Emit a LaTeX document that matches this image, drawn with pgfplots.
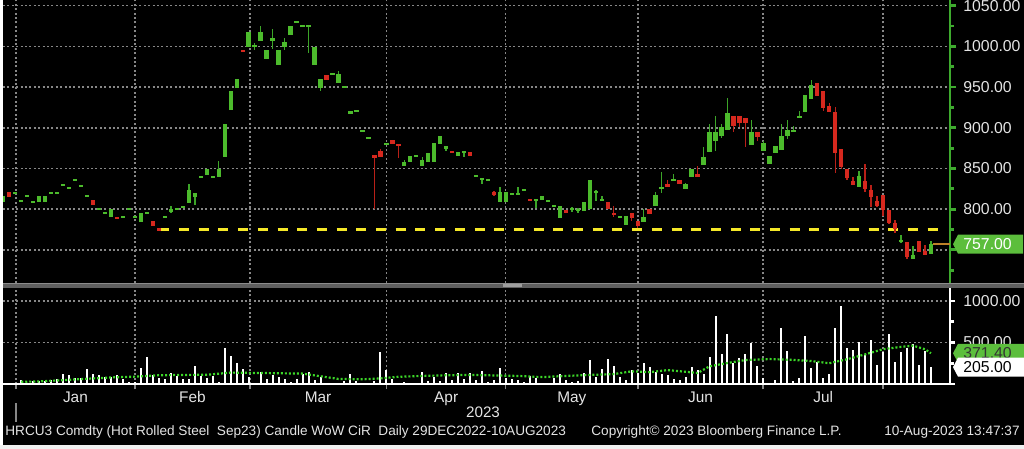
\documentclass[border=0pt]{standalone}
\usepackage{pgfplots}
\pgfplotsset{compat=1.18}
\usepackage{pgfplotstable}
\usepackage{fontspec}
\setmainfont{Liberation Sans}

\definecolor{cgreen}{RGB}{76,187,44}
\definecolor{cgreenw}{RGB}{60,165,40}
\definecolor{cred}{RGB}{214,40,30}
\definecolor{credw}{RGB}{185,32,24}
\definecolor{caxis}{RGB}{62,170,46}
\definecolor{cyellow}{RGB}{245,232,40}
\definecolor{cgrid}{RGB}{135,135,135}
\definecolor{ctext}{RGB}{228,228,228}
\definecolor{cma}{RGB}{60,215,40}
\definecolor{cbrown}{RGB}{190,130,40}
\definecolor{csep}{RGB}{95,95,95}
\definecolor{cbox}{RGB}{92,190,60}

% candle marks: half heights (bp) come from the data via "visualization depends on"
\pgfdeclareplotmark{cbody}{\pgfpathrectanglecorners{\pgfpoint{-1.1bp}{-\bhh bp}}{\pgfpoint{1.1bp}{\bhh bp}}\pgfusepathqfill}
\pgfdeclareplotmark{cwick}{\pgfpathrectanglecorners{\pgfpoint{-0.35bp}{-\whh bp}}{\pgfpoint{0.35bp}{\whh bp}}\pgfusepathqfill}

\tikzset{lbl/.style={text=ctext, font=\fontsize{7.9bp}{9bp}\selectfont, inner sep=0pt}}

% green candles: index, open, high, low, close
\pgfplotstableread{
i o h l c
0 809.2 816.2 809.2 816.2
2 819.9 819.9 819.9 819.9
3 810.1 810.1 810.1 810.1
4 815.8 815.8 815.8 815.8
5 808.5 808.5 808.5 808.5
6 808.8 816.2 808.8 816.2
7 808.8 816.2 808.8 816.2
8 819.9 819.9 819.9 819.9
9 819.9 819.9 819.9 819.9
10 830.1 830.1 830.1 830.1
11 825.7 825.7 825.7 825.7
12 835.5 835.5 835.5 835.5
13 828.5 828.5 828.5 828.5
14 815.8 815.8 815.8 815.8
16 799.9 799.9 799.9 799.9
17 795.0 795.0 795.0 795.0
18 790.8 800.2 790.8 800.2
20 790.4 790.4 790.4 790.4
21 800.2 800.2 800.2 800.2
22 790.4 790.4 790.4 790.4
23 783.9 795.0 783.9 795.0
24 795.0 795.0 795.0 795.0
27 790.4 790.4 790.4 790.4
28 797.0 803.9 795.7 799.9
29 800.2 800.2 800.2 800.2
30 803.1 803.1 803.1 803.1
31 808.0 830.6 808.0 823.2
32 815.0 820.3 805.2 820.3
33 839.6 839.6 839.6 839.6
34 841.6 849.0 841.6 849.0
35 839.6 839.6 839.6 839.6
36 839.2 859.6 839.2 849.4
37 864.5 904.7 864.5 904.7
38 922.2 945.6 922.2 945.6
39 949.3 960.0 949.3 960.0
41 999.6 1018.1 999.6 1018.1
42 998.9 1003.8 995.6 1001.7
43 1007.0 1025.1 1007.0 1018.1
44 984.5 995.2 984.5 995.2
45 1007.0 1021.0 996.8 1010.7
46 977.1 995.2 977.1 995.2
47 999.6 1010.7 995.6 1005.4
48 1014.0 1024.7 1014.0 1024.7
49 1030.3 1030.3 1030.3 1030.3
50 1024.7 1024.7 1024.7 1024.7
51 1024.7 1024.7 991.5 1024.7
52 977.1 999.3 977.1 999.3
53 949.3 960.0 945.2 960.0
55 966.5 966.5 966.5 966.5
56 954.7 969.8 954.7 966.1
57 949.7 949.7 949.7 949.7
58 916.6 920.6 916.6 920.6
59 920.3 920.3 920.3 920.3
60 896.1 896.1 896.1 896.1
61 887.8 887.8 887.8 887.8
64 880.5 880.5 880.5 880.5
67 853.1 860.1 853.1 857.6
68 858.4 865.4 858.4 865.4
69 865.0 865.0 865.0 865.0
70 853.1 863.8 853.1 860.1
71 858.4 869.4 858.4 869.4
72 858.4 881.0 858.4 881.0
73 879.7 889.6 879.7 889.6
74 874.0 878.0 871.5 878.0
76 865.7 870.6 865.7 870.6
77 869.4 871.5 864.1 871.5
79 841.1 841.1 841.1 841.1
80 835.9 838.0 830.6 838.0
81 835.5 835.5 835.5 835.5
83 809.2 826.9 809.2 821.5
84 809.2 820.8 809.2 820.8
85 818.7 818.7 818.7 818.7
86 818.7 827.3 818.7 818.7
87 824.0 824.0 824.0 824.0
89 810.1 811.3 801.1 811.3
90 810.9 815.8 810.9 815.8
91 809.2 811.3 809.2 811.3
92 804.3 804.3 804.3 804.3
93 789.6 804.3 789.6 804.3
95 799.0 802.7 796.6 800.6
96 798.6 801.1 795.0 799.9
97 797.8 808.8 797.8 808.8
98 799.9 835.9 799.9 835.9
99 820.8 823.2 810.1 821.5
100 811.0 816.2 811.0 812.2
103 789.6 792.0 789.6 790.8
104 781.0 792.0 781.0 792.0
107 783.9 800.2 783.9 790.4
109 803.6 820.8 803.6 817.4
110 824.8 845.7 820.3 826.9
112 834.6 842.9 834.6 837.5
114 824.8 832.6 824.8 830.6
115 839.2 849.8 839.2 849.8
117 854.3 876.4 854.3 863.8
118 869.9 904.7 869.9 894.8
119 884.1 914.5 871.5 894.8
120 889.9 904.7 887.1 900.6
121 896.9 936.2 896.9 917.8
125 878.5 909.2 878.5 894.8
127 871.5 883.4 871.5 881.0
128 855.9 865.7 855.9 865.7
129 868.7 877.6 868.7 877.6
130 872.7 904.7 872.7 889.6
131 889.6 909.2 885.9 897.7
132 895.2 902.2 895.2 897.0
133 912.4 920.3 912.4 914.1
134 919.4 939.9 919.4 939.9
135 935.0 958.7 935.0 952.6
143 826.9 846.9 826.9 840.8
150 759.7 768.3 758.1 762.2
152 738.8 754.8 738.8 743.4
155 744.6 761.3 744.6 757.0
}\greentab

% red candles: index, open, high, low, close
\pgfplotstableread{
i o h l c
1 820.8 820.8 814.6 814.6
15 811.7 811.7 805.2 805.2
19 790.8 790.8 788.0 788.0
25 785.1 785.1 779.7 779.7
26 776.9 776.9 773.2 773.2
40 995.2 995.2 992.7 992.7
54 965.2 965.2 958.7 958.7
62 866.6 866.6 799.9 863.3
63 871.1 873.6 864.1 864.1
65 885.0 885.0 879.7 879.7
66 880.5 880.5 862.9 878.0
75 870.6 870.6 868.7 868.7
78 869.9 869.9 865.7 865.7
82 821.1 822.7 816.2 817.8
88 811.3 811.3 811.3 811.3
94 799.0 799.0 795.3 795.3
101 809.2 809.2 800.2 800.2
102 795.0 804.3 790.8 792.9
105 795.0 795.0 785.1 789.6
106 785.1 785.1 776.5 779.7
108 800.2 800.2 793.7 793.7
111 830.6 835.9 826.9 827.6
113 835.9 835.9 830.9 830.9
116 843.2 853.4 839.2 839.2
122 914.5 914.5 895.2 902.6
123 914.5 914.5 901.3 905.5
124 912.0 912.0 876.0 905.5
126 894.8 894.8 884.1 888.3
136 955.4 955.4 939.1 939.1
137 945.6 945.6 921.0 923.9
138 926.8 930.1 919.8 919.8
139 919.0 925.9 844.1 869.4
140 873.6 873.6 849.4 852.2
141 849.8 849.8 835.9 838.7
142 835.0 839.9 829.4 829.4
144 834.3 855.2 820.8 824.8
145 823.2 829.7 803.1 814.6
146 810.4 816.2 802.3 803.9
147 817.4 817.4 791.6 799.0
148 799.0 799.0 781.4 782.7
149 783.4 786.7 770.4 775.7
151 759.3 759.3 738.4 741.6
153 760.6 760.6 747.8 747.8
154 748.6 756.0 744.1 744.1
}\redtab

% daily volume
\pgfplotstableread{
i v
0 20
1 10
2 12
3 52
4 20
5 44
6 40
7 44
8 52
9 64
10 124
11 108
12 80
13 80
14 180
15 120
16 108
17 92
18 84
19 112
20 60
21 30
22 32
23 192
24 332
25 112
26 72
27 64
28 132
29 100
30 60
31 60
32 220
33 104
34 72
35 100
36 32
37 432
38 344
39 260
40 180
41 92
42 20
43 152
44 60
45 112
46 84
47 60
48 32
49 68
50 124
51 144
52 52
53 88
54 16
55 10
56 20
57 40
58 120
59 40
60 16
61 10
62 40
63 392
64 168
65 60
66 10
67 32
68 8
69 10
70 144
71 40
72 92
73 40
74 132
75 52
76 132
77 60
78 132
79 52
80 160
81 30
82 52
83 192
84 72
85 60
86 52
87 32
88 104
89 72
90 8
91 20
92 80
93 120
94 52
95 32
96 44
97 132
98 288
99 84
100 180
101 304
102 220
103 92
104 52
105 172
106 132
107 260
108 204
109 152
110 120
111 112
112 64
113 52
114 92
115 204
116 176
117 128
118 332
119 820
120 360
121 604
122 252
123 312
124 368
125 492
126 220
127 80
128 20
129 52
130 672
131 400
132 40
133 72
134 580
135 192
136 264
137 72
138 124
139 672
140 940
141 432
142 412
143 504
144 352
145 532
146 232
147 392
148 600
149 272
150 392
151 432
152 480
153 232
154 400
155 205
}\voltab

% volume moving average
\pgfplotstableread{
i m
3 30
6 34
10 50
14 66
18 82
22 92
26 108
30 112
34 114
38 140
42 136
46 132
50 128
53 96
56 64
60 60
63 70
66 90
70 100
74 108
78 112
82 106
86 100
90 86
94 100
98 112
102 122
105 155
108 145
111 170
114 150
116 135
118 215
121 255
124 290
128 302
132 292
135 278
138 252
141 300
144 358
147 420
150 448
152 462
154 420
155 371.4
}\matab

\begin{document}
\begin{tikzpicture}
\useasboundingbox (0,0) rectangle (512bp,224.5bp);
\fill[black] (0,0) rectangle (512bp,224.5bp);

% ---------------- price panel ----------------
\begin{axis}[
  at={(1.5bp,83bp)}, anchor=south west, scale only axis,
  width=473.5bp, height=141.5bp,
  xmin=-0.05, xmax=158.18, ymin=709.3, ymax=1057,
  axis x line*=bottom, axis y line*=right,
  x axis line style={draw=none},
  y axis line style={draw=caxis, line width=0.8bp},
  xtick={2.1,22,41.2,64.05,83.9,106.05,126.9,147}, xticklabels={},
  xtick style={draw=none},
  ytick={750,800,850,900,950,1000,1050}, yticklabels={},
  minor ytick={725,775,825,875,925,975,1025},
  ytick style={draw=caxis, line width=1.4bp},
  minor tick style={line width=0.6bp},
  major tick length=3bp, minor tick length=2bp, tick align=outside,
  grid=major,
  major grid style={cgrid, line width=0.8bp, dash pattern=on 1bp off 1.2bp},
]
% wicks
\addplot[only marks, mark=cwick, color=cgreenw, forget plot,
  visualization depends on={(\thisrow{h}-\thisrow{l})*0.20348 \as \whh}]
  table[x=i, y expr={(\thisrow{h}+\thisrow{l})/2}]{\greentab};
\addplot[only marks, mark=cwick, color=credw, forget plot,
  visualization depends on={(\thisrow{h}-\thisrow{l})*0.20348 \as \whh}]
  table[x=i, y expr={(\thisrow{h}+\thisrow{l})/2}]{\redtab};
% bodies
\addplot[only marks, mark=cbody, color=cgreen, forget plot,
  visualization depends on={max(abs(\thisrow{c}-\thisrow{o})*0.20348,0.5) \as \bhh}]
  table[x=i, y expr={(\thisrow{o}+\thisrow{c})/2}]{\greentab};
\addplot[only marks, mark=cbody, color=cred, forget plot,
  visualization depends on={max(abs(\thisrow{c}-\thisrow{o})*0.20348,0.5) \as \bhh}]
  table[x=i, y expr={(\thisrow{o}+\thisrow{c})/2}]{\redtab};
% support line
\addplot[cyellow, line width=1.4bp, dash pattern=on 5bp off 4.85bp, forget plot] coordinates {(26.07,775) (156.96,775)};
% last price line
\addplot[cbrown, line width=0.8bp, forget plot] coordinates {(155.3,757) (158.18,757)};
\coordinate (lastp) at (axis cs:158.18,757);
\coordinate (p800) at (axis cs:158.18,800);
\coordinate (p850) at (axis cs:158.18,850);
\coordinate (p900) at (axis cs:158.18,900);
\coordinate (p950) at (axis cs:158.18,950);
\coordinate (p1000) at (axis cs:158.18,1000);
\coordinate (p1050) at (axis cs:158.18,1050);
\end{axis}

% ---------------- separator ----------------
\fill[csep] (1.5bp,80.5bp) rectangle (512bp,83bp);
\fill[white!55!black] (1.5bp,82.6bp) rectangle (512bp,83bp);
\fill[white!62!black] (251.5bp,80.9bp) rectangle (261bp,82.6bp);

% ---------------- volume panel ----------------
\begin{axis}[
  at={(1.5bp,32.35bp)}, anchor=south west, scale only axis,
  width=473.5bp, height=48.15bp,
  xmin=-0.05, xmax=158.18, ymin=0, ymax=1152,
  axis x line*=bottom, axis y line*=right,
  axis line style={draw=white, line width=0.8bp},
  xtick={2.1,22,41.2,64.05,83.9,106.05,126.9,147}, xticklabels={},
  xtick style={draw=cgrid, line width=0.8bp},
  ytick={0,500,1000}, yticklabels={},
  minor ytick={250,750},
  ytick style={draw=white, line width=1.2bp},
  minor tick style={line width=0.6bp},
  major tick length=2.5bp, minor tick length=2bp, tick align=outside,
  grid=major,
  major grid style={cgrid, line width=0.8bp, dash pattern=on 1bp off 1.2bp},
]
\addplot[ycomb, white, line width=1bp, mark=none, forget plot] table[x=i, y=v]{\voltab};
\addplot[cma, line width=1.1bp, dash pattern=on 1bp off 1bp, mark=none, forget plot] table[x=i, y=m]{\matab};
\coordinate (mal) at (axis cs:158.18,371.4);
\coordinate (vl) at (axis cs:158.18,205);
\coordinate (v500) at (axis cs:158.18,500);
\coordinate (v1000) at (axis cs:158.18,1000);
\coordinate (mJan) at (axis cs:12.05,0);
\coordinate (mFeb) at (axis cs:31.6,0);
\coordinate (mMar) at (axis cs:52.6,0);
\coordinate (mApr) at (axis cs:74,0);
\coordinate (mMay) at (axis cs:95,0);
\coordinate (mJun) at (axis cs:116.5,0);
\coordinate (mJul) at (axis cs:137,0);
\end{axis}

% ---------------- right-hand tick labels ----------------
\foreach \c/\t in {p800/800.00, p850/850.00, p900/900.00, p950/950.00, p1000/1000.00, p1050/1050.00, v500/500.00, v1000/1000.00}
  \node[lbl, anchor=west] at ([xshift=6.5bp]\c) {\t};

% month labels
\foreach \c/\t in {mJan/Jan, mFeb/Feb, mMar/Mar, mApr/Apr, mMay/May, mJun/Jun, mJul/Jul}
  \node[lbl, font=\fontsize{7.7bp}{9bp}\selectfont, anchor=base] at ([yshift=-9bp]\c) {\t};

% ---------------- value boxes ----------------
\fill[cbox] ([xshift=1.5bp]lastp) -- ++(2.5bp,4.75bp) -- ++(32.5bp,0) -- ++(0,-9.5bp) -- ++(-32.5bp,0) -- cycle;
\node[lbl, text=white, anchor=west] at ([xshift=6.5bp]lastp) {757.00};

\fill[cbox] ([xshift=1.5bp]mal) -- ++(2.5bp,4.75bp) -- ++(33.5bp,0) -- ++(0,-9.5bp) -- ++(-33.5bp,0) -- cycle;
\node[lbl, text=black!80, anchor=west] at ([xshift=6.5bp]mal) {371.40};

\fill[white] ([xshift=1.5bp]vl) -- ++(2.5bp,4.75bp) -- ++(33.5bp,0) -- ++(0,-9.5bp) -- ++(-33.5bp,0) -- cycle;
\node[lbl, text=black, anchor=west] at ([xshift=6.5bp]vl) {205.00};

% ---------------- year and footer ----------------
\draw[cgrid, line width=0.8bp] (8bp,13.5bp) -- (8bp,23bp);
\node[lbl, font=\fontsize{7.6bp}{9bp}\selectfont] at (241.5bp,18.15bp) {2023};
\node[lbl, font=\fontsize{6.8bp}{8bp}\selectfont, anchor=west] at (2.5bp,8.65bp) {HRCU3 Comdty (Hot Rolled Steel~ Sep23) Candle WoW CiR~ Daily 29DEC2022-10AUG2023};
\node[lbl, font=\fontsize{6.8bp}{8bp}\selectfont, anchor=west] at (295.5bp,8.65bp) {Copyright© 2023 Bloomberg Finance L.P.};
\node[lbl, font=\fontsize{6.8bp}{8bp}\selectfont, anchor=east] at (510bp,8.65bp) {10-Aug-2023 13:47:37};

% white frame strips of the screenshot
\fill[white] (0,0) rectangle (1.3bp,224.5bp);
\fill[white!94!black] (0,0) rectangle (512bp,2.2bp);
\end{tikzpicture}
\end{document}
